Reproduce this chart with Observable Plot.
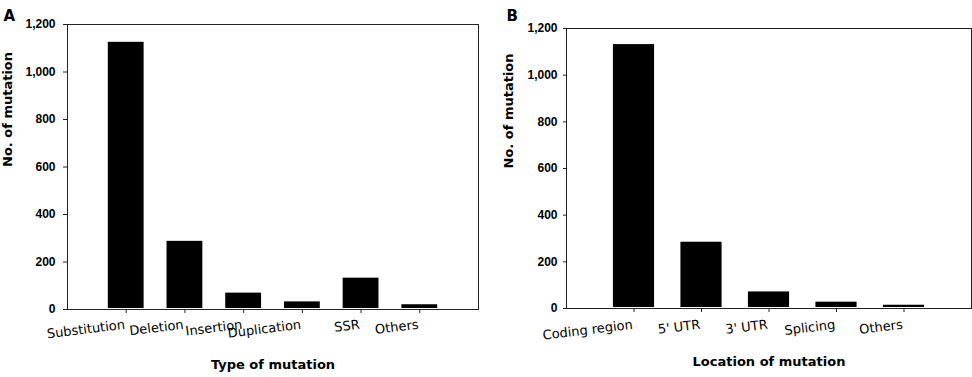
<!DOCTYPE html>
<html>
<head>
<meta charset="utf-8">
<script src="https://cdn.jsdelivr.net/npm/d3@7"></script>
<script src="https://cdn.jsdelivr.net/npm/@observablehq/plot@0.6"></script>
<style>
  html, body { margin: 0; padding: 0; background: #fff; }
  #wrap { position: relative; width: 972px; height: 377px; overflow: hidden; }
  .panel { position: absolute; top: 0; }
</style>
</head>
<body>
<div id="wrap">
  <div class="panel" id="pa" style="left:0px"></div>
  <div class="panel" id="pb" style="left:486px"></div>
</div>
<script>
// ---- data ----
const typeCategories = ["Substitution", "Deletion", "Insertion", "Duplication", "SSR", "Others"];
const typeCounts = [1125, 287, 69, 32, 132, 20];
const locationCategories = ["Coding region", "5' UTR", "3' UTR", "Splicing", "Others"];
const locationCounts = [1131, 284, 71, 27, 14];
const yTicks = [0, 200, 400, 600, 800, 1000, 1200];
const yTitle = "No. of mutation";
const xTitleA = "Type of mutation";
const xTitleB = "Location of mutation";
const panelLetters = ["A", "B"];

function panel({cats, counts, xTitle, letter, margins, ySize, yPad, yTitleDx, xTitleDy, letterDx, letterDy, labelDy}) {
  const data = cats.map((c, i) => ({cat: c, n: counts[i]}));
  const pi = 0.39, po = (1 + pi) / 2;
  return Plot.plot({
    width: 486,
    height: 377,
    ...margins,
    style: {background: "white", color: "black", overflow: "visible"},
    x: {type: "band", domain: cats, paddingInner: pi, paddingOuter: po, round: false, axis: null},
    y: {domain: [0, 1200], axis: null},
    marks: [
      Plot.barY(data, {x: "cat", y: "n", fill: "black", insetBottom: 1}),
      Plot.frame({stroke: "#222", strokeWidth: 1}),
      Plot.axisY({ticks: yTicks, tickSize: ySize, tickFormat: () => "", label: null, stroke: "#222"}),
      Plot.text(yTicks, {y: (d) => d, text: d3.format(","), frameAnchor: "left", textAnchor: "end",
        dx: -(ySize + yPad), fontSize: 12, fontWeight: "bold",
        fontFamily: "Liberation Sans, Arial, sans-serif", fill: "black"}),
      Plot.axisX({tickSize: 4, tickFormat: () => "", label: null, stroke: "#222"}),
      Plot.text(data, {x: "cat", text: "cat", frameAnchor: "bottom", rotate: -7, textAnchor: "end",
        lineAnchor: "top", dx: -2, dy: labelDy, fontSize: 13, fontFamily: "DejaVu Sans, sans-serif", fill: "black"}),
      Plot.text([yTitle], {frameAnchor: "left", rotate: -90, dx: yTitleDx, fontSize: 13, fontWeight: "bold",
        fontFamily: "DejaVu Sans, sans-serif", fill: "black"}),
      Plot.text([xTitle], {frameAnchor: "bottom", dy: xTitleDy, fontSize: 13, fontWeight: "bold",
        fontFamily: "DejaVu Sans, sans-serif", fill: "black"}),
      Plot.text([letter], {frameAnchor: "top-left", textAnchor: "start", dx: letterDx, dy: letterDy, fontSize: 15,
        fontWeight: "bold", fontFamily: "DejaVu Sans, sans-serif", fill: "black"})
    ]
  });
}

document.getElementById("pa").appendChild(panel({
  cats: typeCategories, counts: typeCounts, xTitle: xTitleA, letter: panelLetters[0],
  margins: {marginLeft: 67, marginRight: 8, marginTop: 24, marginBottom: 68},
  ySize: 4, yPad: 8, yTitleDx: -60, xTitleDy: 59, letterDx: -64, letterDy: -14, labelDy: 10
}));
document.getElementById("pb").appendChild(panel({
  cats: locationCategories, counts: locationCounts, xTitle: xTitleB, letter: panelLetters[1],
  margins: {marginLeft: 80, marginRight: 1, marginTop: 28, marginBottom: 69},
  ySize: 3, yPad: 6, yTitleDx: -58, xTitleDy: 57, letterDx: -60, letterDy: -18, labelDy: 11
}));
</script>
</body>
</html>
